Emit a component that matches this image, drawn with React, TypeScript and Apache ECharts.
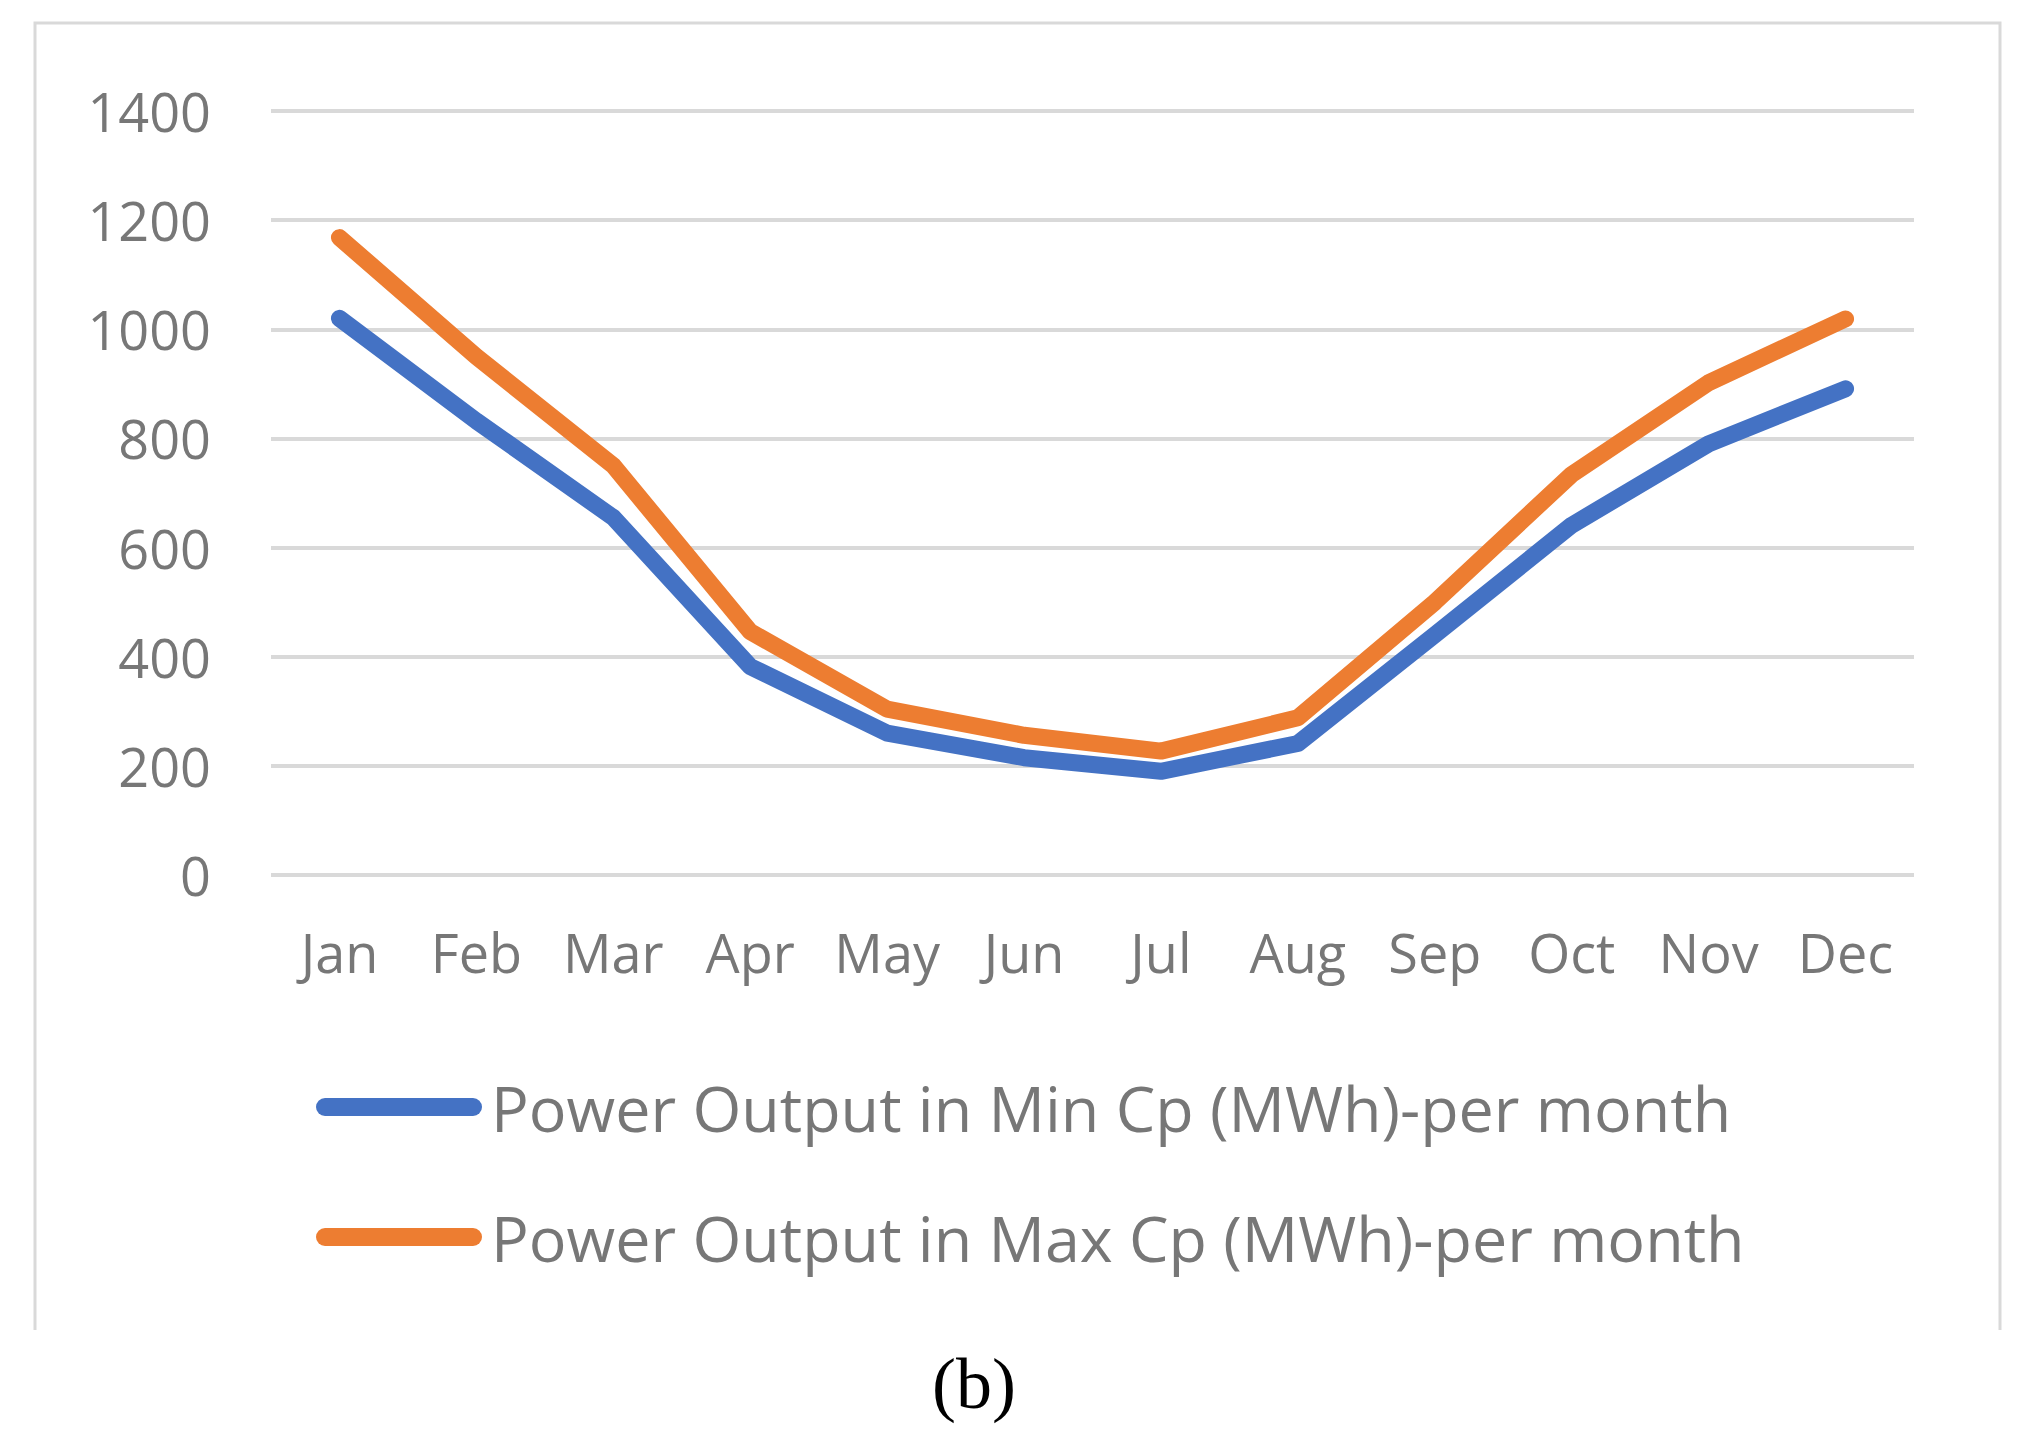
import React, { useEffect, useRef } from "react";
import * as echarts from "echarts";

const months = ["Jan", "Feb", "Mar", "Apr", "May", "Jun", "Jul", "Aug", "Sep", "Oct", "Nov", "Dec"];
const minCp = [1020, 832, 655, 382, 260, 215, 190, 241, 440, 641, 790, 891];
const maxCp = [1168, 950, 750, 446, 304, 256, 227, 288, 500, 734, 902, 1019];
const seriesNames = [
  "Power Output in Min Cp (MWh)-per month",
  "Power Output in Max Cp (MWh)-per month",
];
const colors = ["#4472C4", "#ED7D31"];

export default function App() {
  const ref = useRef<HTMLDivElement>(null);
  useEffect(() => {
    const chart = echarts.init(ref.current!, null, { renderer: "svg" });
    const font = "'Open Sans', 'Noto Sans', sans-serif";
    chart.setOption({
      animation: false,
      backgroundColor: "#ffffff",
      grid: { left: 271, right: 116, top: 111, bottom: 574 },
      xAxis: {
        type: "category",
        data: months,
        boundaryGap: true,
        axisLine: { show: false },
        axisTick: { show: false },
        axisLabel: { color: "#777777", fontSize: 54, fontFamily: font, margin: 50, interval: 0 },
      },
      yAxis: {
        type: "value",
        min: 0,
        max: 1400,
        interval: 200,
        axisLine: { show: false },
        axisTick: { show: false },
        axisLabel: {
          color: "#777777",
          fontSize: 54,
          fontFamily: font,
          margin: 60,
          formatter: (v: number) => String(v),
        },
        splitLine: { show: true, lineStyle: { color: "#d9d9d9", width: 4 } },
      },
      legend: {
        orient: "vertical",
        left: 311,
        top: 1067,
        itemWidth: 166,
        itemHeight: 18,
        itemGap: 60,
        icon: "path://M9,0 L157,0 A9,9 0 0 1 157,18 L9,18 A9,9 0 0 1 9,0 Z",
        textStyle: {
          color: "#777777",
          fontSize: 62.8,
          fontFamily: font,
          lineHeight: 70,
          padding: [0, 0, 0, 4],
        },
        data: seriesNames,
      },
      series: [
        {
          name: seriesNames[0],
          type: "line",
          data: minCp,
          symbol: "none",
          color: colors[0],
          lineStyle: { width: 17, color: colors[0], cap: "round", join: "round" },
        },
        {
          name: seriesNames[1],
          type: "line",
          data: maxCp,
          symbol: "none",
          color: colors[1],
          lineStyle: { width: 17, color: colors[1], cap: "round", join: "round" },
        },
      ],
      graphic: [
        {
          type: "polyline",
          shape: { points: [[35, 1330], [35, 23], [2000, 23], [2000, 1330]] },
          style: { stroke: "#d9d9d9", lineWidth: 3, fill: null },
          silent: true,
        },
        {
          type: "text",
          x: 974,
          y: 1384,
          style: {
            text: "(b)",
            font: "72px 'Liberation Serif', 'Times New Roman', serif",
            fill: "#000000",
            align: "center",
            verticalAlign: "middle",
          },
        },
      ],
    });
    return () => chart.dispose();
  }, []);
  return (
    <div
      ref={ref}
      style={{ position: "fixed", left: 0, top: 0, width: 2030, height: 1449 }}
    />
  );
}
